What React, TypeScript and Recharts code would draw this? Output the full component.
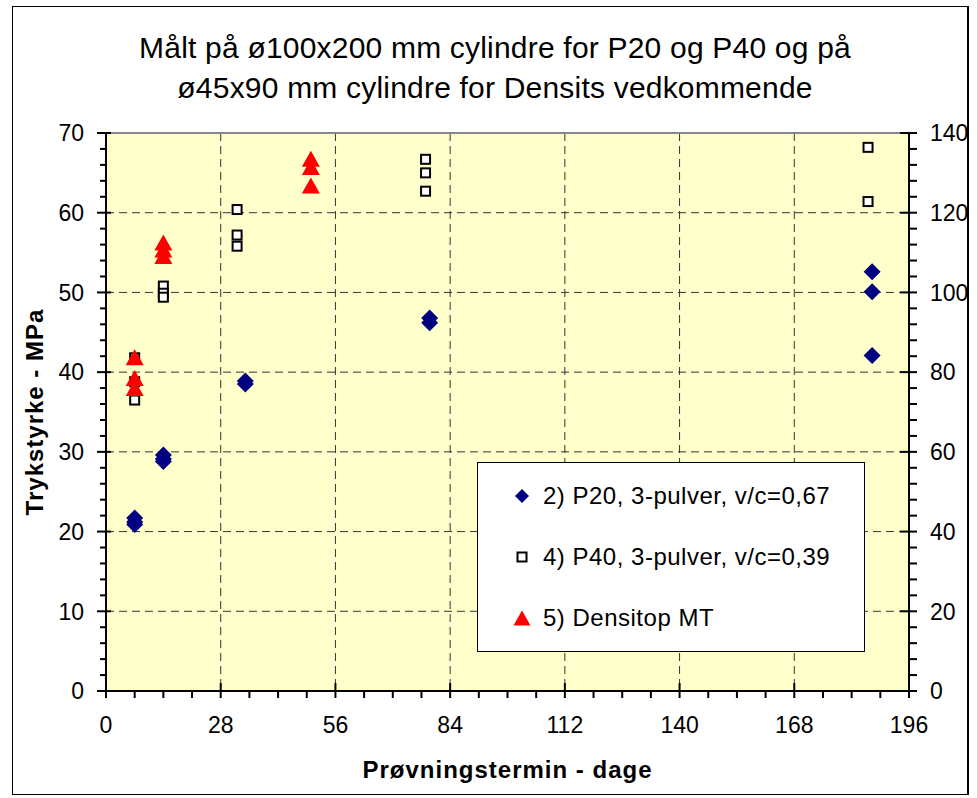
import React from "react";
import { ScatterChart, Scatter, XAxis, YAxis, CartesianGrid, ReferenceLine, Legend, Label } from "recharts";

const FONT = "'Liberation Sans', Arial, sans-serif";

// test days and measured strength, one list pair per series
const p20Days = [7, 7, 7, 14, 14, 14, 34, 34, 79, 79, 187, 187, 187];
const p20Mpa = [21.7, 21.2, 20.9, 29.6, 29.1, 28.8, 38.9, 38.5, 46.8, 46.2, 52.6, 50.1, 42.1];

const p40Days = [7, 7, 7, 14, 14, 14, 32, 32, 32, 78, 78, 78, 186, 186];
const p40Mpa = [41.8, 38.8, 36.5, 50.8, 49.9, 49.4, 60.4, 57.2, 55.8, 66.7, 65.0, 62.7, 68.2, 61.4];

// Densitop is read on the right hand axis
const densDays = [7, 7, 7, 14, 14, 14, 50, 50, 50];
const densMpa = [83.5, 78.3, 75.8, 112.3, 110.5, 108.9, 133.3, 131.2, 126.6];

const xMajor = [0, 28, 56, 84, 112, 140, 168, 196];
const yLeftMajor = [0, 10, 20, 30, 40, 50, 60, 70];
const yRightMajor = [0, 20, 40, 60, 80, 100, 120, 140];

const seriesNames = [
  "2) P20, 3-pulver, v/c=0,67",
  "4) P40, 3-pulver, v/c=0,39",
  "5) Densitop MT",
];

const toPoints = (xs: number[], ys: number[]) => xs.map((x, i) => ({ x, y: ys[i] }));

// split each major interval into n minor steps
const withMinor = (major: number[], n: number) => {
  const out: number[] = [];
  for (let i = 0; i < major.length - 1; i++) {
    const step = (major[i + 1] - major[i]) / n;
    for (let k = 0; k < n; k++) out.push(major[i] + k * step);
  }
  out.push(major[major.length - 1]);
  return out;
};

const Diamond = ({ cx, cy, r = 8.5 }: any) => (
  <path d={`M${cx},${cy - r}L${cx + r},${cy}L${cx},${cy + r}L${cx - r},${cy}Z`} fill="#000080" />
);
const Square = ({ cx, cy, s = 9 }: any) => (
  <rect x={cx - s / 2} y={cy - s / 2} width={s} height={s} fill="#fff" stroke="#000" strokeWidth={2} />
);
const Triangle = ({ cx, cy, w = 9, h = 8 }: any) => (
  <path d={`M${cx},${cy - h - 1}L${cx + w},${cy + h - 1}L${cx - w},${cy + h - 1}Z`} fill="#ff0000" />
);

const tickText = { fontSize: 23, fontFamily: FONT, fill: "#000" };

const LeftTick = ({ x, y, payload }: any) => {
  const major = yLeftMajor.includes(payload.value);
  return (
    <g>
      <line x1={x - (major ? 9 : 6)} x2={x + (major ? 5 : 0)} y1={y} y2={y} stroke="#000" strokeWidth={2} />
      {major && (
        <text x={x - 22} y={y} dy="0.36em" textAnchor="end" {...tickText}>
          {payload.value}
        </text>
      )}
    </g>
  );
};

const RightTick = ({ x, y, payload }: any) => {
  const major = yRightMajor.includes(payload.value);
  return (
    <g>
      <line x1={x - (major ? 9 : 0)} x2={x + 8} y1={y} y2={y} stroke="#000" strokeWidth={2} />
      {major && (
        <text x={x + 21} y={y} dy="0.36em" textAnchor="start" {...tickText}>
          {payload.value}
        </text>
      )}
    </g>
  );
};

const BottomTick = ({ x, y, payload }: any) => {
  const major = xMajor.includes(payload.value);
  return (
    <g>
      <line x1={x} x2={x} y1={y - (major ? 8 : 0)} y2={y + 7} stroke="#000" strokeWidth={2} />
      {major && (
        <text x={x} y={y + 42} textAnchor="middle" {...tickText}>
          {payload.value}
        </text>
      )}
    </g>
  );
};

const YTitle = ({ viewBox }: any) => {
  const cy = viewBox.y + viewBox.height / 2;
  return (
    <text
      x={43}
      y={cy}
      transform={`rotate(-90 43 ${cy})`}
      textAnchor="middle"
      fontSize={24}
      fontWeight="bold"
      fontFamily={FONT}
      fill="#000"
      style={{ letterSpacing: 1 }}
    >
      Trykstyrke - MPa
    </text>
  );
};

const legendMarkers = [
  <Diamond cx={9} cy={9} r={7} />,
  <Square cx={9} cy={9} s={9} />,
  <Triangle cx={9} cy={10} w={8.5} h={7.5} />,
];

const LegendBox = () => (
  <div
    style={{
      width: 388,
      height: 190,
      background: "#fff",
      border: "1px solid #000",
      fontFamily: FONT,
      fontSize: 24,
      letterSpacing: 0.5,
      boxSizing: "border-box",
      paddingTop: 2,
    }}
  >
    {seriesNames.map((name, i) => (
      <div key={name} style={{ display: "flex", alignItems: "center", height: 61 }}>
        <svg width={18} height={18} style={{ marginLeft: 35, marginRight: 12 }}>
          {legendMarkers[i]}
        </svg>
        <span>{name}</span>
      </div>
    ))}
  </div>
);

export default function App() {
  return (
    <div style={{ position: "absolute", left: 0, top: 0, width: 977, height: 798, background: "#fff" }}>
      <div
        style={{
          position: "absolute",
          left: 12,
          top: 6,
          width: 957,
          height: 789,
          border: "1px solid #000",
          borderRightWidth: 2,
          boxSizing: "border-box",
        }}
      />
      <div
        style={{
          position: "absolute",
          left: 12,
          top: 28,
          width: 966,
          textAlign: "center",
          fontFamily: FONT,
          fontSize: 30,
          letterSpacing: 0.2,
          lineHeight: "40px",
        }}
      >
        Målt på ø100x200 mm cylindre for P20 og P40 og på
        <br />
        ø45x90 mm cylindre for Densits vedkommende
      </div>
      <ScatterChart width={977} height={798} margin={{ top: 133, right: 8, bottom: 17, left: 12 }}>
        <CartesianGrid
          yAxisId="left"
          fill="#ffffcc"
          fillOpacity={1}
          stroke="#333"
          strokeDasharray="8 5"
          horizontalValues={yLeftMajor.slice(1, -1)}
          verticalValues={xMajor.slice(1, -1)}
        />
        <XAxis
          type="number"
          dataKey="x"
          domain={[0, 196]}
          ticks={withMinor(xMajor, 4)}
          interval={0}
          tickSize={0}
          tickMargin={0}
          tickLine={false}
          tick={BottomTick}
          height={90}
          axisLine={{ stroke: "#000", strokeWidth: 2 }}
        >
          <Label
            value="Prøvningstermin - dage"
            position="insideBottom"
            offset={3}
            style={{ fontSize: 24, fontWeight: "bold", fontFamily: FONT, fill: "#000", letterSpacing: 1 }}
          />
        </XAxis>
        <YAxis
          yAxisId="left"
          type="number"
          dataKey="y"
          domain={[0, 70]}
          ticks={withMinor(yLeftMajor, 5)}
          interval={0}
          tickSize={0}
          tickMargin={0}
          tickLine={false}
          tick={LeftTick}
          width={94}
          axisLine={{ stroke: "#000", strokeWidth: 2 }}
        >
          <Label content={YTitle} />
        </YAxis>
        <YAxis
          yAxisId="right"
          orientation="right"
          type="number"
          dataKey="y"
          domain={[0, 140]}
          ticks={withMinor(yRightMajor, 5)}
          interval={0}
          tickSize={0}
          tickMargin={0}
          tickLine={false}
          tick={RightTick}
          width={60}
          axisLine={{ stroke: "#000", strokeWidth: 2 }}
        />
        <ReferenceLine yAxisId="left" y={70} stroke="#888" strokeWidth={2} />
        <Scatter
          name={seriesNames[0]}
          yAxisId="left"
          data={toPoints(p20Days, p20Mpa)}
          shape={Diamond}
          isAnimationActive={false}
        />
        <Scatter
          name={seriesNames[1]}
          yAxisId="left"
          data={toPoints(p40Days, p40Mpa)}
          shape={Square}
          isAnimationActive={false}
        />
        <Scatter
          name={seriesNames[2]}
          yAxisId="right"
          data={toPoints(densDays, densMpa)}
          shape={Triangle}
          isAnimationActive={false}
        />
        <Legend
          layout="vertical"
          align="center"
          verticalAlign="middle"
          content={LegendBox}
          wrapperStyle={{ left: 477, top: 462, width: 388, height: 190 }}
        />
      </ScatterChart>
    </div>
  );
}
